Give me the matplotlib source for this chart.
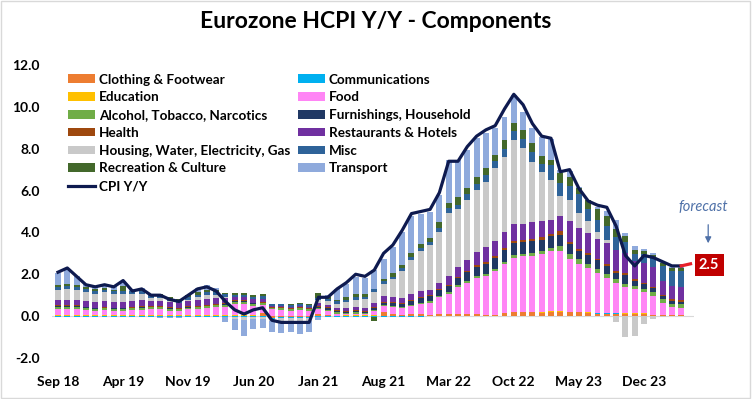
import matplotlib
matplotlib.use('Agg')
import matplotlib.pyplot as plt
from matplotlib.patches import Rectangle
import numpy as np

plt.rcParams['font.family'] = ['Lato', 'DejaVu Sans']

# months Sep 2018 .. Apr 2024, tick label every 7 months
tick_labels = ['Sep 18', 'Apr 19', 'Nov 19', 'Jun 20', 'Jan 21', 'Aug 21',
               'Mar 22', 'Oct 22', 'May 23', 'Dec 23']

cpi = [2.1, 2.3, 1.9, 1.5,
       1.4, 1.5, 1.4, 1.7, 1.2, 1.3, 1.0, 1.0, 0.8, 0.7, 1.0, 1.3,
       1.4, 1.2, 0.7, 0.3, 0.1, 0.3, 0.4, -0.2, -0.3, -0.3, -0.3, -0.3,
       0.9, 0.9, 1.3, 1.6, 2.0, 1.9, 2.2, 3.0, 3.4, 4.1, 4.9, 5.0,
       5.1, 5.9, 7.4, 7.4, 8.1, 8.6, 8.9, 9.1, 9.9, 10.6, 10.1, 9.2,
       8.6, 8.5, 6.9, 7.0, 6.1, 5.5, 5.3, 5.2, 4.3, 2.9, 2.4, 2.9,
       2.8, 2.6, 2.4, 2.4]
forecast = 2.5

# contributions (pp), stacked in this order
clothing = [0.02, 0.02, 0.02, 0.02,
            0.02, 0.02, 0.02, 0.02, 0.02, 0.02, 0.02, 0.02, 0.02, 0.02, 0.02, 0.02,
            0.02, 0.02, 0.02, 0.02, 0.02, 0.02, 0.15, -0.08, -0.05, -0.03, -0.05, -0.03,
            0.1, 0.05, 0.0, 0.02, 0.02, 0.02, 0.02, 0.2, 0.1, 0.05, 0.1, 0.1,
            0.05, 0.08, 0.08, 0.1, 0.1, 0.1, 0.05, 0.05, 0.15, 0.18, 0.18, 0.2,
            0.15, 0.2, 0.2, 0.18, 0.18, 0.15, 0.12, 0.12, 0.12, 0.1, 0.1, 0.1,
            0.05, 0.05, 0.05, 0.05]
communications = [-0.02, -0.02, -0.02, -0.02,
                  -0.03, -0.03, -0.03, -0.03, -0.03, -0.03, -0.03, -0.03, -0.03, -0.03, -0.03, -0.03,
                  -0.03, -0.03, -0.03, -0.03, -0.03, -0.04, -0.04, -0.04, -0.05, -0.05, -0.06, -0.05,
                  -0.03, -0.03, -0.03, -0.02, -0.02, -0.02, -0.02, -0.02, -0.02, -0.02, -0.02, -0.02,
                  -0.01, -0.01, -0.01, -0.01, -0.01, -0.01, -0.01, -0.01, -0.01, -0.01, -0.01, -0.01,
                  0.01, 0.01, 0.01, 0.01, 0.01, 0.01, 0.01, 0.01, 0.01, 0.01, 0.01, 0.01,
                  0.0, 0.0, 0.0, 0.0]
education = [0.02, 0.02, 0.02, 0.02,
             0.01, 0.01, 0.01, 0.01, 0.01, 0.01, 0.01, 0.01, 0.02, 0.02, 0.02, 0.02,
             0.02, 0.02, 0.02, 0.02, 0.02, 0.02, 0.02, 0.02, 0.01, 0.01, 0.01, 0.01,
             0.02, 0.02, 0.02, 0.02, 0.02, 0.02, 0.02, 0.02, 0.02, 0.02, 0.02, 0.02,
             0.02, 0.02, 0.02, 0.02, 0.02, 0.02, 0.02, 0.02, 0.02, 0.02, 0.02, 0.02,
             0.02, 0.02, 0.02, 0.02, 0.02, 0.02, 0.02, 0.02, 0.02, 0.02, 0.02, 0.02,
             0.02, 0.02, 0.02, 0.02]
food = [0.3, 0.3, 0.3, 0.25,
        0.22, 0.25, 0.22, 0.22, 0.25, 0.28, 0.3, 0.3, 0.22, 0.2, 0.28, 0.3,
        0.35, 0.4, 0.42, 0.55, 0.55, 0.45, 0.35, 0.3, 0.28, 0.25, 0.3, 0.25,
        0.2, 0.18, 0.1, 0.05, 0.08, 0.05, 0.2, 0.25, 0.3, 0.3, 0.35, 0.45,
        0.55, 0.8, 0.95, 1.26, 1.48, 1.68, 1.83, 2.07, 2.3, 2.6, 2.66, 2.64,
        2.78, 2.88, 2.88, 2.5, 2.27, 2.14, 1.93, 1.69, 1.45, 1.24, 1.16, 1.0,
        0.9, 0.55, 0.37, 0.33]
alcohol = [0.1, 0.1, 0.1, 0.1,
           0.09, 0.09, 0.09, 0.09, 0.1, 0.1, 0.09, 0.09, 0.09, 0.09, 0.08, 0.08,
           0.08, 0.08, 0.09, 0.09, 0.09, 0.09, 0.09, 0.08, 0.08, 0.08, 0.08, 0.08,
           0.06, 0.06, 0.06, 0.06, 0.06, 0.06, 0.06, 0.06, 0.06, 0.06, 0.06, 0.07,
           0.08, 0.08, 0.08, 0.1, 0.1, 0.1, 0.1, 0.11, 0.12, 0.13, 0.13, 0.14,
           0.15, 0.16, 0.24, 0.24, 0.23, 0.16, 0.16, 0.16, 0.16, 0.15, 0.15, 0.16,
           0.16, 0.18, 0.16, 0.16]
furnishings = [0.03, 0.03, 0.03, 0.03,
               0.03, 0.03, 0.03, 0.03, 0.03, 0.03, 0.03, 0.03, 0.03, 0.03, 0.03, 0.03,
               0.03, 0.03, 0.03, 0.03, 0.03, 0.03, 0.03, 0.0, 0.02, 0.02, 0.02, 0.02,
               0.08, 0.08, 0.06, 0.06, 0.06, 0.06, 0.08, 0.12, 0.15, 0.15, 0.2, 0.22,
               0.25, 0.28, 0.32, 0.35, 0.4, 0.45, 0.5, 0.52, 0.55, 0.58, 0.56, 0.58,
               0.55, 0.56, 0.55, 0.5, 0.42, 0.45, 0.42, 0.4, 0.32, 0.46, 0.24, 0.23,
               0.2, 0.15, 0.14, 0.12]
health = [0.04, 0.04, 0.04, 0.04,
          0.04, 0.04, 0.04, 0.04, 0.04, 0.04, 0.04, 0.04, 0.04, 0.04, 0.04, 0.04,
          0.04, 0.04, 0.04, 0.04, 0.04, 0.04, 0.04, 0.04, 0.04, 0.04, 0.04, 0.04,
          0.04, 0.04, 0.04, 0.04, 0.04, 0.04, 0.04, 0.04, 0.04, 0.04, 0.04, 0.04,
          0.05, 0.05, 0.06, 0.06, 0.07, 0.08, 0.08, 0.09, 0.1, 0.1, 0.1, 0.11,
          0.12, 0.1, 0.16, 0.1, 0.08, 0.1, 0.08, 0.08, 0.08, 0.1, 0.08, 0.08,
          0.08, 0.08, 0.08, 0.08]
restaurants = [0.25, 0.25, 0.25, 0.25,
               0.27, 0.27, 0.27, 0.27, 0.25, 0.27, 0.25, 0.25, 0.25, 0.25, 0.27, 0.27,
               0.27, 0.27, 0.25, 0.15, 0.15, 0.15, 0.15, 0.05, 0.05, 0.05, 0.05, 0.05,
               0.12, 0.12, 0.12, 0.12, 0.15, 0.15, 0.2, 0.25, 0.25, 0.25, 0.3, 0.3,
               0.25, 0.29, 0.39, 0.44, 0.53, 0.62, 0.71, 0.71, 0.76, 0.77, 0.73, 0.79,
               0.75, 0.65, 0.72, 0.99, 0.99, 0.95, 0.96, 1.0, 1.0, 0.95, 0.89, 0.95,
               0.95, 0.65, 0.6, 0.62]
housing = [0.5, 0.55, 0.5, 0.45,
           0.4, 0.42, 0.4, 0.4, 0.35, 0.3, 0.15, 0.12, 0.05, 0.0, 0.05, 0.15,
           0.2, 0.15, 0.05, -0.1, -0.15, -0.12, -0.1, -0.12, -0.12, -0.15, -0.15, -0.15,
           0.15, 0.15, 0.2, 0.3, 0.35, 0.4, 0.55, 0.6, 0.85, 1.3, 1.6, 1.9,
           2.14, 2.4, 3.05, 2.77, 2.87, 3.0, 3.14, 3.53, 3.62, 4.05, 3.67, 2.9,
           2.34, 1.93, 0.95, 1.03, 0.75, 0.56, 0.3, 0.15, -0.3, -1.0, -0.95, -0.4,
           -0.15, -0.05, 0.02, 0.03]
misc = [0.12, 0.12, 0.12, 0.12,
        0.13, 0.13, 0.13, 0.13, 0.13, 0.13, 0.12, 0.12, 0.12, 0.12, 0.12, 0.12,
        0.12, 0.12, 0.12, 0.12, 0.12, 0.12, 0.12, 0.1, 0.1, 0.1, 0.1, 0.1,
        0.12, 0.12, 0.12, 0.12, 0.12, 0.12, 0.12, 0.12, 0.12, 0.12, 0.15, 0.15,
        0.15, 0.2, 0.2, 0.22, 0.25, 0.27, 0.3, 0.3, 0.35, 0.4, 0.42, 0.45,
        0.4, 0.7, 0.64, 0.63, 0.87, 0.56, 0.6, 0.67, 0.6, 0.5, 0.3, 0.4,
        0.45, 0.7, 0.72, 0.74]
recreation = [0.1, 0.1, 0.1, 0.1,
              0.08, 0.08, 0.05, 0.25, 0.0, 0.1, 0.05, 0.08, 0.08, 0.06, 0.1, 0.1,
              0.1, 0.1, 0.05, 0.1, 0.08, 0.1, 0.12, 0.0, -0.05, 0.05, 0.05, 0.05,
              0.2, 0.1, 0.05, 0.12, 0.15, 0.12, -0.2, 0.1, 0.15, 0.15, 0.2, 0.2,
              0.17, 0.3, 0.25, 0.35, 0.32, 0.35, 0.37, 0.3, 0.46, 0.41, 0.43, 0.45,
              0.36, 0.25, 0.47, 0.47, 0.3, 0.45, 0.5, 0.48, 0.38, 0.3, 0.2, 0.15,
              0.12, 0.15, 0.15, 0.15]
transport = [0.6, 0.7, 0.45, 0.15,
             0.15, 0.18, 0.2, 0.2, 0.1, 0.05, 0.0, -0.05, -0.05, -0.08, 0.0, 0.2,
             0.25, 0.1, -0.25, -0.55, -0.75, -0.45, -0.45, -0.5, -0.55, -0.55, -0.6, -0.55,
             -0.15, 0.1, 0.55, 0.63, 0.8, 0.78, 0.9, 0.96, 1.24, 1.57, 1.76, 1.45,
             1.25, 1.3, 2.07, 1.8, 1.81, 1.83, 1.66, 1.3, 1.09, 1.33, 0.86, 0.72,
             0.95, 1.0, 0.16, 0.25, 0.05, 0.0, 0.1, 0.22, 0.46, 0.14, 0.2, 0.1,
             0.1, 0.05, 0.05, 0.05]

series = [('Clothing & Footwear', clothing, '#ED7D31'),
          ('Communications', communications, '#00B0F0'),
          ('Education', education, '#FFC000'),
          ('Food', food, '#FF85F5'),
          ('Alcohol, Tobacco, Narcotics', alcohol, '#70AD47'),
          ('Furnishings, Household', furnishings, '#203864'),
          ('Health', health, '#9E480E'),
          ('Restaurants & Hotels', restaurants, '#7030A0'),
          ('Housing, Water, Electricity, Gas', housing, '#C9C9C9'),
          ('Misc', misc, '#2E6399'),
          ('Recreation & Culture', recreation, '#43682B'),
          ('Transport', transport, '#8FAADC')]

x = np.arange(len(cpi))

fig = plt.figure(figsize=(7.52, 3.99), dpi=100)
ax = fig.add_axes([0.0697, 0.1028, 0.8535, 0.7343])

# stack positives up and negatives down, like excel
pos = np.zeros(len(x))
neg = np.zeros(len(x))
bars = {}
for name, vals, col in series:
    v = np.array(vals)
    base = np.where(v >= 0, pos, neg)
    bars[name] = ax.bar(x, v, 0.64, bottom=base, color=col, linewidth=0, label=name)
    pos = pos + np.where(v >= 0, v, 0)
    neg = neg + np.where(v < 0, v, 0)

cpi_line, = ax.plot(x, cpi, color='#0E1A4F', lw=2.3, label='CPI Y/Y', zorder=5)
ax.plot([x[-1], x[-1] + 1], [cpi[-1], forecast], color='#E8202A', lw=2.3, zorder=5)

ax.axhline(0, color='#D9D9D9', lw=0.8, zorder=0)

ax.set_xlim(-0.6, 68.4)
ax.set_ylim(-2, 12)
ax.set_yticks(np.arange(-2, 13, 2))
ax.set_yticklabels(['%.1f' % t for t in np.arange(-2, 13, 2)], fontsize=10, fontweight='bold')
ax.set_xticks(x[::7])
ax.set_xticklabels(tick_labels, fontsize=10, fontweight='bold')
ax.tick_params(axis='both', length=0)
ax.tick_params(axis='x', pad=13)
ax.tick_params(axis='y', pad=9)
for s in ax.spines.values():
    s.set_visible(False)

# forecast label
ax.text(70.0, 2.44, '%.1f' % forecast, color='white', fontsize=10.5, fontweight='bold',
        ha='center', va='center',
        bbox=dict(boxstyle='square,pad=0.3', fc='#C00000', ec='none'))
ax.text(69.4, 5.2, 'forecast', color='#4F71A8', fontsize=10.5, style='italic',
        ha='center', va='center')
ax.annotate('', xy=(69.9, 3.35), xytext=(69.9, 4.5),
            arrowprops=dict(arrowstyle='-|>', color='#4F71A8', lw=0.9, mutation_scale=9),
            annotation_clip=False)

# legend row-wise like excel: left column then right column
left = ['Clothing & Footwear', 'Education', 'Alcohol, Tobacco, Narcotics', 'Health',
        'Housing, Water, Electricity, Gas', 'Recreation & Culture']
right = ['Communications', 'Food', 'Furnishings, Household', 'Restaurants & Hotels',
         'Misc', 'Transport']
handles = [bars[n] for n in left] + [cpi_line] + [bars[n] for n in right]
labels = left + ['CPI Y/Y'] + right
fig.legend(handles, labels, ncol=2, loc='upper left', bbox_to_anchor=(68 / 752, 1 - 73.5 / 399),
           frameon=False, prop={'weight': 'bold', 'size': 9.7},
           borderpad=0, borderaxespad=0, handlelength=2.0, handleheight=0.6,
           handletextpad=0.3, labelspacing=0.43, columnspacing=0.55)

fig.text(0.5, 1 - 22 / 399, 'Eurozone HCPI Y/Y - Components', ha='center', va='center',
         fontsize=16.5, fontweight='bold')

# light chart border
fig.patches.append(Rectangle((0.001, 0.002), 0.997, 0.996, transform=fig.transFigure,
                             fill=False, ec='#D9D9D9', lw=1))

fig.savefig('out.png', dpi=100)
